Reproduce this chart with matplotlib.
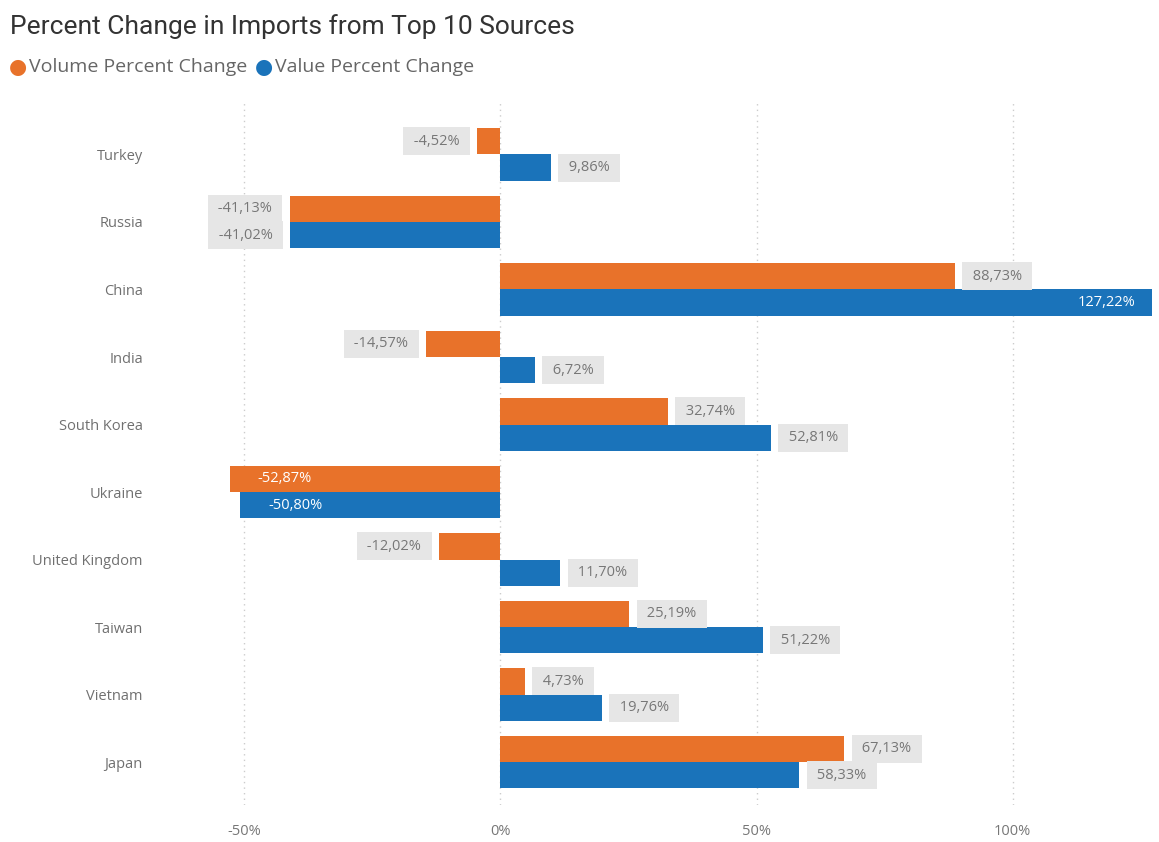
import matplotlib.pyplot as plt
import numpy as np

plt.rcParams['font.family'] = ['Open Sans', 'DejaVu Sans']

countries = ['Turkey', 'Russia', 'China', 'India', 'South Korea', 'Ukraine',
             'United Kingdom', 'Taiwan', 'Vietnam', 'Japan']
volume_change = [-4.52, -41.13, 88.73, -14.57, 32.74, -52.87, -12.02, 25.19, 4.73, 67.13]
value_change = [9.86, -41.02, 127.22, 6.72, 52.81, -50.80, 11.70, 51.22, 19.76, 58.33]
x_ticks = [-50, 0, 50, 100]

orange = '#E8722A'
blue = '#1A73BA'
label_grey = '#777777'
box_grey = '#E6E6E6'

fig = plt.figure(figsize=(11.59, 8.42), dpi=100)
ax = fig.add_axes([0.1976, 0.0439, 0.7964, 0.8338])

y = np.arange(len(countries))
bar_h = 0.39
x_min, x_max = -53.0, 127.22


def fmt(v):
    return f"{v:.2f}%".replace('.', ',')


def add_label(value, ypos):
    # labels that would not fit outside the bar go inside it, in white
    inside = value < -45 or value > 110
    if inside:
        if value < 0:
            ax.annotate(fmt(value), (value, ypos), xytext=(20, 0), textcoords='offset points',
                        ha='left', va='center', fontsize=10.5, color='white')
        else:
            ax.annotate(fmt(value), (value, ypos), xytext=(-12, 0), textcoords='offset points',
                        ha='right', va='center', fontsize=10.5, color='white')
    else:
        box = dict(boxstyle='square,pad=0.45', fc=box_grey, ec='none')
        if value < 0:
            ax.annotate(' ' + fmt(value) + ' ', (value, ypos), xytext=(-10, 0), textcoords='offset points',
                        ha='right', va='center', fontsize=10.5, color=label_grey, bbox=box,
                        annotation_clip=False)
        else:
            ax.annotate(' ' + fmt(value) + ' ', (value, ypos), xytext=(10, 0), textcoords='offset points',
                        ha='left', va='center', fontsize=10.5, color=label_grey, bbox=box,
                        annotation_clip=False)


ax.barh(y - bar_h / 2, volume_change, height=bar_h, color=orange, zorder=2)
ax.barh(y + bar_h / 2, value_change, height=bar_h, color=blue, zorder=2)

for i in range(len(countries)):
    add_label(volume_change[i], y[i] - bar_h / 2)
    add_label(value_change[i], y[i] + bar_h / 2)

ax.set_xlim(x_min, x_max)
ax.set_ylim(9.637, -0.763)
ax.set_xticks(x_ticks)
ax.set_xticklabels([f"{t}%" for t in x_ticks])
ax.set_yticks(y)
ax.set_yticklabels(countries)
ax.tick_params(axis='x', length=0, pad=14, labelsize=10.5, labelcolor=label_grey)
ax.tick_params(axis='y', length=0, pad=62, labelsize=10.5, labelcolor='#707070')

ax.grid(axis='x', linestyle=(0, (1, 3)), color='#CCCCCC', linewidth=1, zorder=0)
for s in ax.spines.values():
    s.set_visible(False)

# Title and legend
fig.text(0.009, 0.983, 'Percent Change in Imports from Top 10 Sources', fontsize=19,
         color='#333333', ha='left', va='top', family=['Roboto', 'DejaVu Sans'])
fig.text(0.008, 0.920, '\u25CF', fontsize=15, color=orange, ha='left', va='center',
         family=['DejaVu Sans'])
fig.text(0.025, 0.920, 'Volume Percent Change', fontsize=14, color='#666666',
         ha='left', va='center')
fig.text(0.220, 0.920, '\u25CF', fontsize=15, color=blue, ha='left', va='center',
         family=['DejaVu Sans'])
fig.text(0.237, 0.920, 'Value Percent Change', fontsize=14, color='#666666',
         ha='left', va='center')

fig.savefig('out.png', dpi=100)
